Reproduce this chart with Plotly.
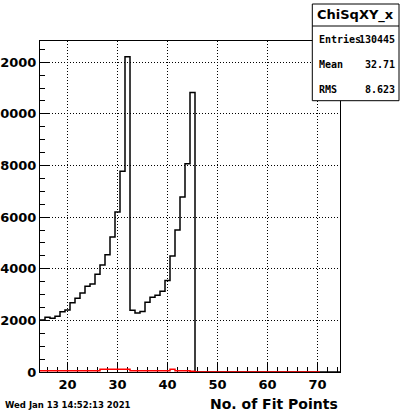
import plotly.graph_objects as go

# ---- data ----
hist_name = "ChiSqXY_x"
x_title = "No. of Fit Points"
date_text = "Wed Jan 13 14:52:13 2021"

black_centers = list(range(15, 75))
black_counts = [2010, 2120, 2080, 2160, 2330, 2400, 2680, 2860, 3060, 3320,
                3410, 3790, 4140, 4540, 5230, 6200, 7780, 12210, 2390, 2285,
                2340, 2700, 2895, 2975, 3130, 3545, 4495, 5496, 6782, 8062,
                10822,
                0, 0, 0, 0, 0, 0, 0, 0, 0, 0, 0, 0, 0, 0, 0, 0, 0, 0, 0, 0,
                0, 0, 0, 0, 0, 0, 0, 0, 0]

red_centers = list(range(15, 71))
red_counts = [50, 50, 50, 50, 50, 50, 50, 50, 50, 50, 50, 50,
              105, 105, 105, 105, 105, 105,
              50, 50, 50, 50, 50, 50, 50, 50,
              105,
              50, 50, 50,
              25,
              0, 0, 0, 0, 0, 0, 0, 0, 0, 0, 0, 0, 0, 0, 0, 0, 0, 0, 0, 0,
              0, 0, 0, 0, 0]

stats_labels = ["Entries", "Mean", "RMS"]
stats_values = ["130445", "32.71", "8.623"]

x_range = [14.5, 74.5]
y_max = 1.05 * max(black_counts)


def steps(centers, counts):
    xs = [c - 0.5 for c in centers] + [centers[-1] + 0.5]
    ys = list(counts) + [counts[-1]]
    return xs, ys


W, H = 400, 414
L, R, T, B = 40, 340, 41, 372


def px(xp):
    return (xp - L) / (R - L)


def py(yp):
    return (B - yp) / (B - T)


fig = go.Figure()
bx, by = steps(black_centers, black_counts)
fig.add_trace(go.Scatter(x=bx, y=by, mode="lines", line=dict(shape="hv", color="black", width=1.5),
                         hoverinfo="skip", showlegend=False))
rx, ry = steps(red_centers, red_counts)
fig.add_trace(go.Scatter(x=rx, y=ry, mode="lines", line=dict(shape="hv", color="red", width=1.5),
                         hoverinfo="skip", showlegend=False))

tickfont = dict(family="DejaVu Sans", size=13, color="black", weight="bold")

fig.update_layout(
    width=W, height=H,
    margin=dict(l=L, r=W - R, t=T, b=H - B, pad=0, autoexpand=False),
    paper_bgcolor="white", plot_bgcolor="white",
    showlegend=False,
    xaxis=dict(range=x_range, tick0=0, dtick=10, ticks="inside", ticklen=9, tickwidth=1,
               tickcolor="black", showline=True, linecolor="black", linewidth=1, mirror=True,
               showgrid=True, gridcolor="black", gridwidth=1, griddash="1px,2px",
               zeroline=False, tickfont=tickfont, layer="below traces", tickformat="d",
               automargin=False,
               minor=dict(dtick=2, tick0=0, ticks="inside", ticklen=5, tickcolor="black",
                          tickwidth=1, showgrid=False)),
    yaxis=dict(range=[0, y_max], tick0=0, dtick=2000, ticks="inside", ticklen=9, tickwidth=1,
               tickcolor="black", showline=True, linecolor="black", linewidth=1, mirror=True,
               showgrid=True, gridcolor="black", gridwidth=1, griddash="1px,2px",
               zeroline=False, tickfont=tickfont, layer="below traces", tickformat="d",
               automargin=False,
               minor=dict(dtick=500, tick0=0, ticks="inside", ticklen=5, tickcolor="black",
                          tickwidth=1, showgrid=False)),
)

# stats box
bx0, bx1, bt, bb, bdiv = 312.3, 399, 4, 100.7, 26
fig.add_shape(type="rect", xref="paper", yref="paper", x0=px(bx0), x1=px(bx1), y0=py(bb), y1=py(bt),
              line=dict(color="black", width=1), fillcolor="white", layer="above")
fig.add_shape(type="line", xref="paper", yref="paper", x0=px(bx0), x1=px(bx1), y0=py(bdiv), y1=py(bdiv),
              line=dict(color="black", width=1), layer="above")

anns = []
anns.append(dict(text=hist_name, x=px((bx0 + bx1) / 2), y=py(15), xref="paper", yref="paper",
                 xanchor="center", yanchor="middle", showarrow=False,
                 font=dict(family="DejaVu Sans", size=13, color="black", weight="bold")))
row_y = [40, 65, 89]
for lab, val, yy in zip(stats_labels, stats_values, row_y):
    anns.append(dict(text=lab, x=px(316.5), y=py(yy), xref="paper", yref="paper",
                     xanchor="left", yanchor="middle", showarrow=False,
                     font=dict(family="DejaVu Sans Mono", size=10, color="black", weight="bold")))
    anns.append(dict(text=val, x=px(397), y=py(yy), xref="paper", yref="paper",
                     xanchor="right", yanchor="middle", showarrow=False,
                     font=dict(family="DejaVu Sans Mono", size=10, color="black", weight="bold")))

anns.append(dict(text=x_title, x=px(340), y=py(404), xref="paper", yref="paper",
                 xanchor="right", yanchor="middle", showarrow=False,
                 font=dict(family="DejaVu Sans", size=14, color="black", weight="bold")))
anns.append(dict(text=date_text, x=px(2.5), y=py(405), xref="paper", yref="paper",
                 xanchor="left", yanchor="middle", showarrow=False,
                 font=dict(family="DejaVu Sans", size=8.5, color="black", weight="bold")))
fig.update_layout(annotations=anns)

fig.write_html("out.html", config={"displayModeBar": False},
               post_script="document.body.style.margin='0px';document.body.style.padding='0px';"
                           "document.documentElement.style.overflow='hidden';")
